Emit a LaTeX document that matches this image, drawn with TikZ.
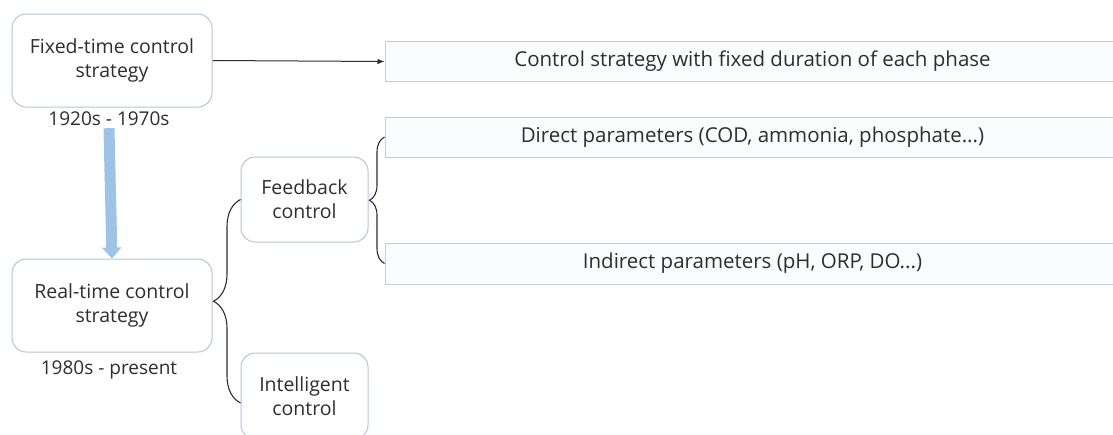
\documentclass[tikz,border=0pt]{standalone}
\usepackage{fontspec}
\setmainfont{Open Sans}
\usetikzlibrary{arrows.meta,decorations.pathreplacing,calc}
\definecolor{txt}{HTML}{2E2E2E}
\definecolor{boxline}{HTML}{B4C6D8}
\definecolor{rboxline}{HTML}{C3CDD6}
\definecolor{rboxfill}{HTML}{FAFCFE}
\definecolor{arrowblue}{HTML}{9DC3E6}
\tikzset{
  rbox/.style={draw=boxline, line width=1pt, fill=white, rounded corners=14pt, align=center,
    text=txt, font=\fontsize{19.5}{24}\selectfont, inner sep=0pt},
  pbox/.style={draw=rboxline, line width=1pt, fill=rboxfill, align=center, text=txt,
    font=\fontsize{20.5}{24}\selectfont, minimum width=735pt, inner sep=0pt},
  datelab/.style={text=txt, font=\fontsize{19}{21}\selectfont, inner sep=1pt},
  bracestyle/.style={draw=txt, line width=1.1pt, decorate},
}
\begin{document}
\begin{tikzpicture}[x=1pt,y=-1pt]
\clip (0,0) rectangle (1113,434);
\fill[white] (0,0) rectangle (1113,434);
\node[rbox, minimum width=200pt, minimum height=93pt] (fixed) at (112,60.5) {Fixed-time control\\strategy};
\node[rbox, minimum width=200pt, minimum height=93pt] (real) at (112,305.5) {Real-time control\\strategy};
\node[rbox, minimum width=127pt, minimum height=85pt] (feedback) at (304.5,199.5) {Feedback\\control};
\node[rbox, minimum width=127pt, minimum height=86pt] (intel) at (304.5,396) {Intelligent\\control};
\node[pbox, minimum height=40pt] (top) at (752.5,61.5) {Control strategy with fixed duration of each phase};
\node[pbox, minimum height=40pt] (direct) at (752.5,137) {Direct parameters (COD, ammonia, phosphate...)};
\node[pbox, minimum height=41pt] (indirect) at (752.5,263.5) {Indirect parameters (pH, ORP, DO...)};
\node[datelab] (lab1) at (109,119) {1920s - 1970s};
\node[datelab] (lab2) at (109,370) {1980s - present};
\draw[arrowblue, line width=11pt, -{Triangle[width=19pt,length=11pt]}] ([yshift=-1pt]lab1.south) -- (real.north);
\draw[txt, line width=1pt, -{Latex[length=7pt,width=5.5pt]}] (fixed.east) -- (top.west);
\draw[bracestyle, decoration={brace, amplitude=27pt}] ([yshift=-7pt]intel.west) -- (feedback.west);
\draw[bracestyle, decoration={brace, amplitude=15pt}] (indirect.west) -- (direct.west);
\end{tikzpicture}
\end{document}
